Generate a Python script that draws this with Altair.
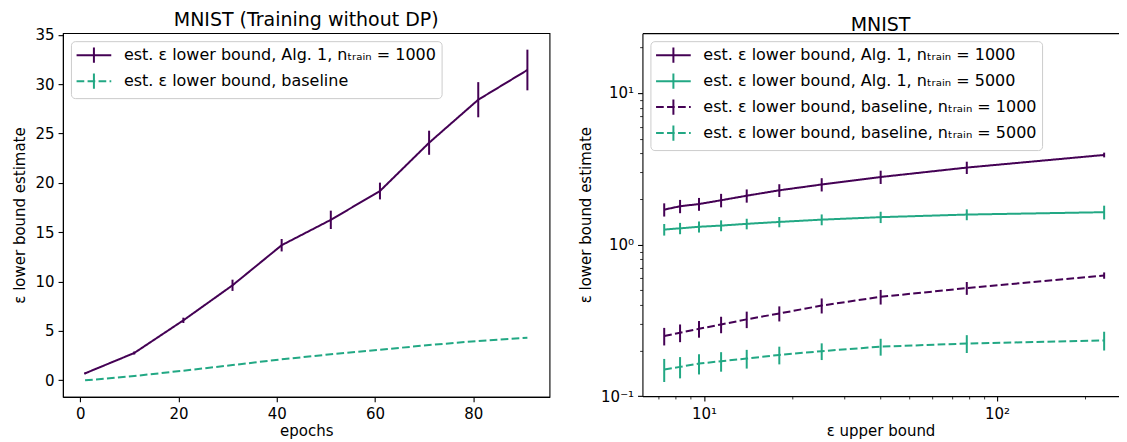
import altair as alt
import pandas as pd

PURPLE = "#440154"
GREEN = "#22a884"
FONT = "DejaVu Sans"
FS = 15

# ---------------- left panel data ----------------
epochs = [1, 11, 21, 31, 41, 51, 61, 71, 81, 91]
alg1_eps = [0.71, 2.77, 6.08, 9.63, 13.69, 16.26, 19.18, 24.07, 28.43, 31.44]
alg1_err = [0.10, 0.15, 0.27, 0.57, 0.63, 0.93, 0.85, 1.22, 1.78, 2.06]
base_eps = [0.0, 0.44, 0.98, 1.55, 2.13, 2.64, 3.10, 3.58, 3.99, 4.32]
base_err = [0.0, 0.0, 0.0, 0.0, 0.0, 0.0, 0.0, 0.0, 0.0, 0.0]
left_labels = [
    "est. ε lower bound, Alg. 1, nₜᵣₐᵢₙ = 1000",
    "est. ε lower bound, baseline",
]

# ---------------- right panel data ----------------
eps_upper = [7.31, 8.28, 9.61, 11.43, 13.98, 18.06, 25.2, 40.05, 78.8, 231.9]
alg1_1000 = [1.70, 1.79, 1.85, 1.96, 2.10, 2.28, 2.49, 2.79, 3.22, 3.90]
alg1_1000_err = [0.17, 0.18, 0.18, 0.20, 0.21, 0.22, 0.25, 0.28, 0.30, 0.14]
alg1_5000 = [1.256, 1.28, 1.31, 1.334, 1.37, 1.41, 1.46, 1.516, 1.577, 1.635]
alg1_5000_err = [0.11, 0.11, 0.11, 0.11, 0.11, 0.11, 0.12, 0.13, 0.13, 0.17]
base_1000 = [0.249, 0.262, 0.278, 0.297, 0.321, 0.351, 0.396, 0.452, 0.516, 0.625]
base_1000_err = [0.033, 0.035, 0.035, 0.037, 0.04, 0.04, 0.045, 0.05, 0.05, 0.03]
base_5000 = [0.150, 0.156, 0.164, 0.170, 0.177, 0.187, 0.198, 0.212, 0.2225, 0.233]
base_5000_err = [0.026, 0.025, 0.025, 0.025, 0.025, 0.025, 0.025, 0.027, 0.03, 0.033]
right_labels = [
    "est. ε lower bound, Alg. 1, nₜᵣₐᵢₙ = 1000",
    "est. ε lower bound, Alg. 1, nₜᵣₐᵢₙ = 5000",
    "est. ε lower bound, baseline, nₜᵣₐᵢₙ = 1000",
    "est. ε lower bound, baseline, nₜᵣₐᵢₙ = 5000",
]


def frame(xs, ys, errs, label):
    return pd.DataFrame({
        "x": xs,
        "y": ys,
        "lo": [a - b for a, b in zip(ys, errs)],
        "hi": [a + b for a, b in zip(ys, errs)],
        "series": label,
    })


df_left = pd.concat([
    frame(epochs, alg1_eps, alg1_err, left_labels[0]),
    frame(epochs, base_eps, base_err, left_labels[1]),
], ignore_index=True)

df_right = pd.concat([
    frame(eps_upper, alg1_1000, alg1_1000_err, right_labels[0]),
    frame(eps_upper, alg1_5000, alg1_5000_err, right_labels[1]),
    frame(eps_upper, base_1000, base_1000_err, right_labels[2]),
    frame(eps_upper, base_5000, base_5000_err, right_labels[3]),
], ignore_index=True)

SOLID = [1, 0]
DASH = [7.7, 3.3]
SYM = "M-2.17,0H2.17M0,-0.95V0M0,0V0.95"


def make_legend(row_pad):
    return alt.Legend(
        title=None, orient="top-left", offset=8,
        symbolType=SYM, symbolSize=256, symbolStrokeWidth=2,
        symbolOffset=9, labelOffset=21,
        labelFont=FONT, labelFontSize=16, labelColor="black", labelLimit=1000,
        padding=5, rowPadding=row_pad,
        strokeColor="#cccccc", fillColor="rgba(255,255,255,0.8)",
        cornerRadius=4,
    )


# ---------------- left chart ----------------
lx_scale = alt.Scale(domain=[-3.5, 95.5], nice=False, zero=False)
ly_scale = alt.Scale(domain=[-1.67, 35.17], nice=False, zero=False)
lx_axis = alt.Axis(values=[0, 20, 40, 60, 80], title="epochs")
ly_axis = alt.Axis(values=[0, 5, 10, 15, 20, 25, 30, 35], title="ε lower bound estimate")
l_leg = make_legend(2)
l_color = alt.Color("series:N", scale=alt.Scale(domain=left_labels, range=[PURPLE, GREEN]), legend=l_leg)
l_dash = alt.StrokeDash("series:N", scale=alt.Scale(domain=left_labels, range=[SOLID, DASH]), legend=l_leg)

left_lines = alt.Chart(df_left).mark_line(strokeWidth=2).encode(
    x=alt.X("x:Q", scale=lx_scale, axis=lx_axis),
    y=alt.Y("y:Q", scale=ly_scale, axis=ly_axis),
    color=l_color,
    strokeDash=l_dash,
)
left_bars = alt.Chart(df_left).mark_rule(strokeWidth=2).encode(
    x=alt.X("x:Q", scale=lx_scale, axis=lx_axis),
    y=alt.Y("lo:Q", scale=ly_scale, axis=ly_axis),
    y2="hi:Q",
    color=l_color,
)
left = alt.layer(left_lines, left_bars).properties(
    width=487, height=364,
    title=alt.TitleParams("MNIST (Training without DP)", offset=-2),
    view=alt.ViewBackground(stroke="black", strokeWidth=1.1),
)

# ---------------- right chart ----------------
rx_scale = alt.Scale(type="log", domain=[6.16, 260], nice=False)
ry_scale = alt.Scale(type="log", domain=[0.1, 24.8], nice=False)
x_vals = [7, 8, 9, 10, 20, 30, 40, 50, 60, 70, 80, 90, 100, 200]
y_vals = [0.1, 0.2, 0.3, 0.4, 0.5, 0.6, 0.7, 0.8, 0.9, 1, 2, 3, 4, 5, 6, 7, 8, 9, 10, 20]
rx_axis = alt.Axis(
    values=x_vals, title="ε upper bound", labelOverlap=False,
    labelExpr="datum.value == 10 ? '10¹' : datum.value == 100 ? '10²' : ''",
    tickSize={"condition": {"test": "datum.value == 10 || datum.value == 100", "value": 4.9}, "value": 2.8},
    tickWidth={"condition": {"test": "datum.value == 10 || datum.value == 100", "value": 1.1}, "value": 0.8},
)
ry_axis = alt.Axis(
    values=y_vals, title="ε lower bound estimate", labelOverlap=False,
    labelExpr="datum.value == 0.1 ? '10⁻¹' : datum.value == 1 ? '10⁰' : datum.value == 10 ? '10¹' : ''",
    tickSize={"condition": {"test": "datum.value == 0.1 || datum.value == 1 || datum.value == 10", "value": 4.9}, "value": 2.8},
    tickWidth={"condition": {"test": "datum.value == 0.1 || datum.value == 1 || datum.value == 10", "value": 1.1}, "value": 0.8},
)
top_axis = alt.Axis(orient="top", labels=False, ticks=False, domain=True, title=None)
r_leg = make_legend(2)
r_color = alt.Color("series:N", scale=alt.Scale(domain=right_labels, range=[PURPLE, GREEN, PURPLE, GREEN]), legend=r_leg)
r_dash = alt.StrokeDash("series:N", scale=alt.Scale(domain=right_labels, range=[SOLID, SOLID, DASH, DASH]), legend=r_leg)

right_lines = alt.Chart(df_right).mark_line(strokeWidth=2).encode(
    x=alt.X("x:Q", scale=rx_scale, axis=rx_axis),
    y=alt.Y("y:Q", scale=ry_scale, axis=ry_axis),
    color=r_color,
    strokeDash=r_dash,
)
right_bars = alt.Chart(df_right).mark_rule(strokeWidth=2).encode(
    x=alt.X("x:Q", scale=rx_scale, axis=top_axis),
    y=alt.Y("lo:Q", scale=ry_scale, axis=ry_axis),
    y2="hi:Q",
    color=r_color,
)
right = alt.layer(right_lines, right_bars).resolve_axis(x="independent").properties(
    width=476.7, height=363.3,
    title=alt.TitleParams("MNIST", offset=-2),
)

chart = alt.hconcat(left, right, spacing=28).resolve_scale(
    color="independent", strokeDash="independent"
).resolve_legend(
    color="independent", strokeDash="independent"
).properties(
    padding={"left": 4, "top": 2, "right": 0, "bottom": 0},
).configure_axis(
    labelFont=FONT, titleFont=FONT, labelFontSize=FS, titleFontSize=FS,
    titleFontWeight="normal", labelColor="black", titleColor="black",
    tickColor="black", domainColor="black", tickSize=4.9, tickWidth=1.1,
    domainWidth=1.1, grid=False, labelFlush=False,
).configure_axisX(
    labelPadding=5, titlePadding=2,
).configure_axisY(
    labelPadding=4, titlePadding=7,
).configure_title(
    font=FONT, fontSize=19, fontWeight="normal", color="black", anchor="middle",
).configure_view(stroke=None)

chart.save("out.html", embed_options={"renderer": "svg", "actions": False})
